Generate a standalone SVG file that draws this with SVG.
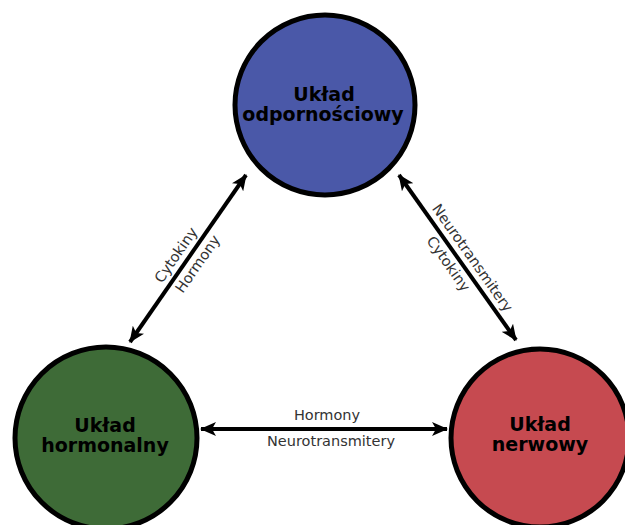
<svg xmlns="http://www.w3.org/2000/svg" width="625" height="525" viewBox="0 0 625 525">
<defs>
<style>
.node circle{stroke:#000;stroke-width:5}
.nlabel{font-family:"DejaVu Sans",sans-serif;font-weight:bold;font-size:19px;fill:#000;text-anchor:middle}
.edge{stroke:#000;stroke-width:4;fill:none;marker-start:url(#arr);marker-end:url(#arr)}
.elabel{font-family:"DejaVu Sans",sans-serif;font-size:14.5px;fill:#333;text-anchor:middle}
</style>
<marker id="arr" viewBox="0 0 16 14" refX="15" refY="7" markerWidth="16" markerHeight="14" markerUnits="userSpaceOnUse" orient="auto-start-reverse">
<path d="M0,0 L16,7 L0,14 L4,7 Z" fill="#000"/>
</marker>
</defs>
<rect width="625" height="525" fill="#fff"/>
<g id="connectors">
<line class="edge" x1="130" y1="342" x2="246" y2="175"/>
<line class="edge" x1="399" y1="175" x2="516" y2="340"/>
<line class="edge" x1="201" y1="429" x2="447" y2="429"/>
<g transform="translate(188,258.5) rotate(-55.3)">
<text class="elabel" x="-4" y="-7">Cytokiny</text>
<text class="elabel" x="1" y="16">Hormony</text>
</g>
<g transform="translate(457.5,257.5) rotate(54.7)">
<text class="elabel" x="9" y="-7">Neurotransmitery</text>
<text class="elabel" x="0" y="16">Cytokiny</text>
</g>
<text class="elabel" x="327" y="420">Hormony</text>
<text class="elabel" x="331" y="446">Neurotransmitery</text>
</g>
<g id="node-odpornosciowy" class="node">
<circle cx="325" cy="105" r="90" fill="#4a58a8"/>
<text class="nlabel" x="324" y="101">Układ</text>
<text class="nlabel" x="323" y="121">odpornościowy</text>
</g>
<g id="node-hormonalny" class="node">
<circle cx="106" cy="438" r="91" fill="#3e6b37"/>
<text class="nlabel" x="105" y="432">Układ</text>
<text class="nlabel" x="105" y="452">hormonalny</text>
</g>
<g id="node-nerwowy" class="node">
<circle cx="540" cy="438" r="89" fill="#c64a50"/>
<text class="nlabel" x="540" y="431">Układ</text>
<text class="nlabel" x="540" y="451">nerwowy</text>
</g>
</svg>
